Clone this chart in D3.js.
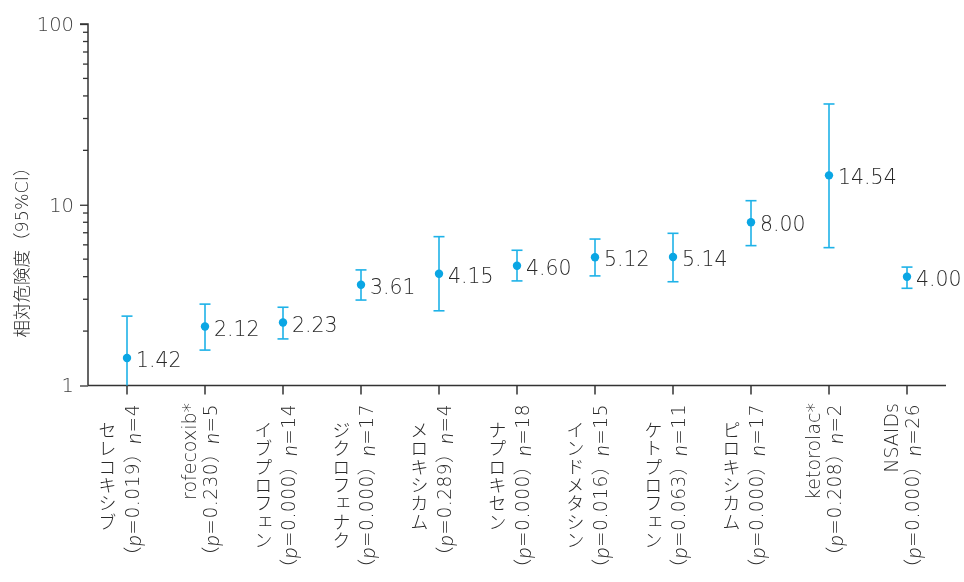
<!DOCTYPE html>
<html><head><meta charset="utf-8">
<script src="https://cdn.jsdelivr.net/npm/d3@7"></script>
<style>
body{margin:0;background:#fff;}
svg{will-change:transform;}
text{font-family:"DejaVu Sans","Noto Sans CJK JP",sans-serif;}
</style></head>
<body><svg id="chart" width="964" height="582"></svg>
<script>
const names = ["セレコキシブ","rofecoxib*","イブプロフェン","ジクロフェナク","メロキシカム","ナプロキセン","インドメタシン","ケトプロフェン","ピロキシカム","ketorolac*","NSAIDs"];
const pValues = ["0.019","0.230","0.000","0.000","0.289","0.000","0.016","0.063","0.000","0.208","0.000"];
const nValues = [4,5,14,17,4,18,15,11,17,2,26];
const rr = [1.42,2.12,2.23,3.61,4.15,4.60,5.12,5.14,8.00,14.54,4.00];
const ciLow = [0.83,1.57,1.81,2.97,2.59,3.79,4.04,3.75,5.94,5.79,3.45];
const ciHigh = [2.42,2.82,2.71,4.36,6.66,5.60,6.46,6.95,10.53,36.1,4.52];
const yTicks = [1,10,100];
const yTitle = "相対危険度（95%CI）";

const svg = d3.select("#chart");
const mLeft = 88, mRight = 946, mTop = 24, mBottom = 385.5;
const x = d3.scaleBand().domain(names).range([mLeft, mRight]);
const y = d3.scaleLog().domain([1,100]).range([mBottom, mTop]);
const blue = "#1eb2e8", dot = "#0aa6e4", axisCol = "#333", txt = "#2a2a2a";
const latinFont = '"DejaVu Sans","Noto Sans CJK JP",sans-serif';
const jaFont = '"Noto Sans CJK JP",sans-serif';
const italFont = 'Lato,"Open Sans",sans-serif';

// minor ticks
const minor = [];
for (const d of [1,10]) for (let k=2;k<=9;k++) minor.push(d*k);
svg.append("g").selectAll("line").data(minor).join("line")
  .attr("x1", mLeft-5).attr("x2", mLeft).attr("y1", d=>y(d)).attr("y2", d=>y(d))
  .attr("stroke", axisCol).attr("stroke-width", 1.3);

const yAxis = svg.append("g").attr("transform", `translate(${mLeft},0)`)
  .call(d3.axisLeft(y).tickValues(yTicks).tickFormat(d3.format("d")).tickSize(8).tickPadding(6));
yAxis.select(".domain").attr("stroke", axisCol).attr("stroke-width", 1.5).attr("d", `M-8,${mTop}H0V${mBottom}`);
yAxis.selectAll(".tick line").attr("stroke", axisCol).attr("stroke-width", 1.3);
yAxis.selectAll(".tick text").attr("font-size", 19.5).attr("fill", "#444").attr("font-weight", 200)
  .attr("font-family", latinFont);

const xAxis = svg.append("g").attr("transform", `translate(0,${mBottom})`)
  .call(d3.axisBottom(x).tickSize(9).tickFormat(""));
xAxis.select(".domain").attr("stroke", axisCol).attr("stroke-width", 1.5).attr("d", `M${mLeft},0H${mRight}`);
xAxis.selectAll(".tick line").attr("stroke", axisCol).attr("stroke-width", 1.5);

// y title
svg.append("text").attr("transform", "translate(22,248) rotate(-90)")
  .attr("text-anchor","middle").attr("dominant-baseline","central")
  .attr("font-family", latinFont).attr("font-weight", 300)
  .attr("font-size", 17.5).attr("fill", txt).text(yTitle);

// category labels
const isJa = s => /[^\x00-\x7f]/.test(s);
names.forEach((nm, i) => {
  const cx = x(nm) + x.bandwidth()/2;
  if (isJa(nm)) {
    svg.append("text").attr("x", cx-21).attr("y", 421)
      .attr("style", "writing-mode: vertical-rl; text-orientation: upright;")
      .attr("font-family", jaFont)
      .attr("font-size", 18.3).attr("fill", txt).attr("font-weight", 300).text(nm);
  } else {
    svg.append("text").attr("transform", `translate(${cx-16},403) rotate(-90)`)
      .attr("text-anchor","end").attr("dominant-baseline","central")
      .attr("font-family", latinFont)
      .attr("font-size", 19).attr("fill", txt).attr("font-weight", 200).text(nm);
  }
  const t = svg.append("text").attr("transform", `translate(${cx+5},404) rotate(-90)`)
    .attr("text-anchor","end").attr("dominant-baseline","central")
    .attr("font-family", latinFont).attr("letter-spacing", 0.5)
    .attr("font-size", 18.6).attr("fill", txt).attr("font-weight", 200);
  t.append("tspan").text("（");
  t.append("tspan").attr("font-style","italic").attr("font-family", italFont).attr("font-weight", 300).attr("font-size", 21).text("p");
  t.append("tspan").text("=" + pValues[i] + "）");
  t.append("tspan").attr("font-style","italic").attr("font-family", italFont).attr("font-weight", 300).attr("font-size", 21).text("n");
  t.append("tspan").text("=" + nValues[i]);
});

// error bars
const clampY = v => y(Math.max(1, Math.min(100, v)));
const g = svg.append("g");
names.forEach((nm, i) => {
  const cx = x(nm) + x.bandwidth()/2;
  const yl = clampY(ciLow[i]), yh = clampY(ciHigh[i]);
  g.append("line").attr("x1",cx).attr("x2",cx).attr("y1",yl).attr("y2",yh)
    .attr("stroke",blue).attr("stroke-width",1.6);
  g.append("line").attr("x1",cx-5.5).attr("x2",cx+5.5).attr("y1",yh).attr("y2",yh)
    .attr("stroke",blue).attr("stroke-width",1.6);
  if (ciLow[i] >= 1)
    g.append("line").attr("x1",cx-5.5).attr("x2",cx+5.5).attr("y1",yl).attr("y2",yl)
      .attr("stroke",blue).attr("stroke-width",1.6);
  g.append("circle").attr("cx",cx).attr("cy",y(rr[i])).attr("r",4.2).attr("fill",dot);
  g.append("text").attr("x",cx+9).attr("y",y(rr[i])+2).attr("dominant-baseline","central")
    .attr("font-family", latinFont)
    .attr("font-size",20.5).attr("fill",txt).attr("font-weight",200).text(rr[i].toFixed(2));
});
</script></body></html>
